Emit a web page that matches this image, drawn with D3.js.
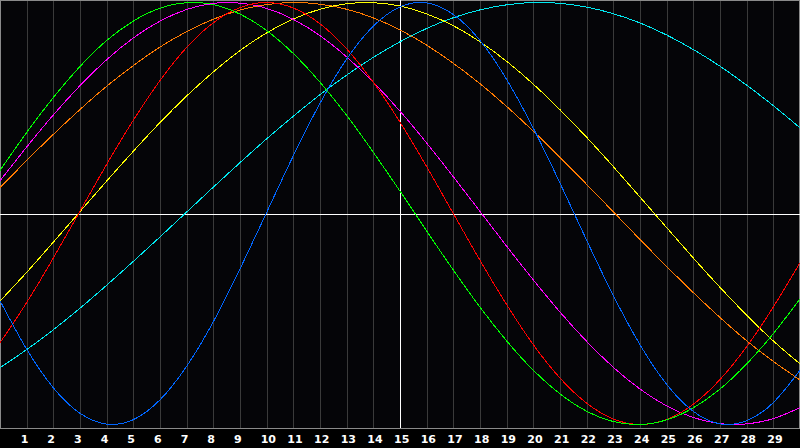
<!DOCTYPE html>
<html>
<head>
<meta charset="utf-8">
<script src="https://cdn.jsdelivr.net/npm/d3@7"></script>
<style>
html,body{margin:0;padding:0;background:#000;}
svg{display:block;}
</style>
</head>
<body>
<svg id="chart" width="800" height="448"></svg>
<script>
// Day positions 0..30 (one value per day)
const days = d3.range(0, 31);
// Tick labels along the bottom
const tickLabels = d3.range(1, 30).map(String);

// Series values (-1 .. 1), one per day 0..30
const physical = [-0.414,-0.643,-0.826,-0.947,-0.998,-0.977,-0.883,-0.724,-0.513,-0.263,0.005,0.274,0.522,0.732,0.888,0.979,0.998,0.943,0.820,0.635,0.404,0.144,-0.127,-0.389,-0.622,-0.810,-0.938,-0.997,-0.982,-0.896,-0.743];
const emotional = [-0.613,-0.422,-0.211,0.011,0.233,0.442,0.630,0.787,0.904,0.976,1.000,0.974,0.899,0.780,0.622,0.433,0.222,0.000,-0.222,-0.432,-0.622,-0.780,-0.899,-0.974,-1.000,-0.976,-0.904,-0.787,-0.631,-0.443,-0.233];
const intellectual = [0.204,0.384,0.550,0.697,0.820,0.912,0.973,0.999,0.990,0.945,0.867,0.758,0.622,0.465,0.290,0.106,-0.083,-0.268,-0.444,-0.604,-0.743,-0.855,-0.937,-0.986,-1.000,-0.978,-0.921,-0.832,-0.713,-0.569,-0.405];
const intuitive = [0.155,0.315,0.467,0.606,0.729,0.832,0.912,0.967,0.996,0.997,0.972,0.920,0.843,0.742,0.622,0.485,0.334,0.174,0.010,-0.155,-0.315,-0.467,-0.606,-0.729,-0.832,-0.912,-0.967,-0.996,-0.997,-0.972,-0.920];
const aesthetic = [-0.415,-0.279,-0.136,0.009,0.154,0.295,0.431,0.557,0.671,0.772,0.856,0.922,0.968,0.994,0.999,0.983,0.946,0.890,0.814,0.721,0.613,0.492,0.361,0.222,0.078,-0.067,-0.211,-0.350,-0.482,-0.604,-0.713];
const awareness = [0.123,0.251,0.375,0.493,0.603,0.701,0.789,0.862,0.921,0.964,0.990,1.000,0.992,0.968,0.927,0.870,0.798,0.712,0.615,0.507,0.390,0.266,0.138,0.008,-0.123,-0.251,-0.375,-0.493,-0.603,-0.701,-0.789];
const spiritual = [-0.731,-0.645,-0.551,-0.449,-0.340,-0.227,-0.111,0.007,0.125,0.241,0.354,0.461,0.563,0.656,0.740,0.814,0.877,0.928,0.965,0.989,1.000,0.996,0.978,0.947,0.903,0.846,0.777,0.698,0.608,0.511,0.406];

const seriesNames = ["spiritual","awareness","aesthetic","intuitive","emotional","intellectual","physical"];
const seriesValues = [spiritual, awareness, aesthetic, intuitive, emotional, intellectual, physical];
const seriesColors = ["#00e8f0","#ff7a00","#ffff00","#ff00ff","#ff0000","#00ff00","#0066ff"];

const W = 800, H = 448;
const plot = {left: 0, top: 0, right: 800, bottom: 428};

const svg = d3.select("#chart");
svg.append("rect").attr("x",0).attr("y",0).attr("width",W).attr("height",H).attr("fill","#000000");
svg.append("rect").attr("x",0).attr("y",0).attr("width",W).attr("height",plot.bottom).attr("fill","#050508");

const x = d3.scaleLinear().domain([0, 30]).range([plot.left, plot.right]);
const y = d3.scaleLinear().domain([-1, 1]).range([424.5, 2.5]);

// Vertical grid lines at each day
svg.append("g").selectAll("line")
  .data(d3.range(1, 30))
  .join("line")
  .attr("x1", d => Math.round(x(d)) + 0.5)
  .attr("x2", d => Math.round(x(d)) + 0.5)
  .attr("y1", 0).attr("y2", plot.bottom)
  .attr("stroke", "#3a3a3a").attr("stroke-width", 1)
  .attr("shape-rendering", "crispEdges");

// Border
svg.append("rect")
  .attr("x", 0.5).attr("y", 0.5)
  .attr("width", W - 1).attr("height", plot.bottom - 0.5)
  .attr("fill", "none").attr("stroke", "#8a8a8a").attr("stroke-width", 1)
  .attr("shape-rendering", "crispEdges");

// Center cross lines
svg.append("line")
  .attr("x1", 0).attr("x2", W)
  .attr("y1", Math.round(y(0)) + 0.5).attr("y2", Math.round(y(0)) + 0.5)
  .attr("stroke", "#ffffff").attr("stroke-width", 1.2)
  .attr("shape-rendering", "crispEdges");
svg.append("line")
  .attr("x1", Math.round(x(15)) + 0.5).attr("x2", Math.round(x(15)) + 0.5)
  .attr("y1", 0).attr("y2", plot.bottom)
  .attr("stroke", "#ffffff").attr("stroke-width", 1.2)
  .attr("shape-rendering", "crispEdges");

// Curves
const line = d3.line()
  .x((d, i) => x(days[i]))
  .y(d => y(d))
  .curve(d3.curveNatural);

svg.append("clipPath").attr("id", "clip")
  .append("rect").attr("x", 0).attr("y", 0).attr("width", W).attr("height", plot.bottom);

svg.append("g").attr("clip-path", "url(#clip)")
  .selectAll("path")
  .data(seriesValues)
  .join("path")
  .attr("d", d => line(d))
  .attr("fill", "none")
  .attr("stroke", (d, i) => seriesColors[i])
  .attr("stroke-width", 1)
  .attr("shape-rendering", "crispEdges")
  .attr("class", (d, i) => seriesNames[i]);

// Day labels
svg.append("g").selectAll("text")
  .data(tickLabels)
  .join("text")
  .attr("x", (d, i) => x(i + 1) - 6)
  .attr("y", 443)
  .attr("text-anchor", "start")
  .attr("fill", "#ffffff")
  .attr("font-family", "'DejaVu Sans', sans-serif")
  .attr("font-weight", "bold")
  .attr("font-size", 11)
  .text(d => d);
</script>
</body>
</html>
